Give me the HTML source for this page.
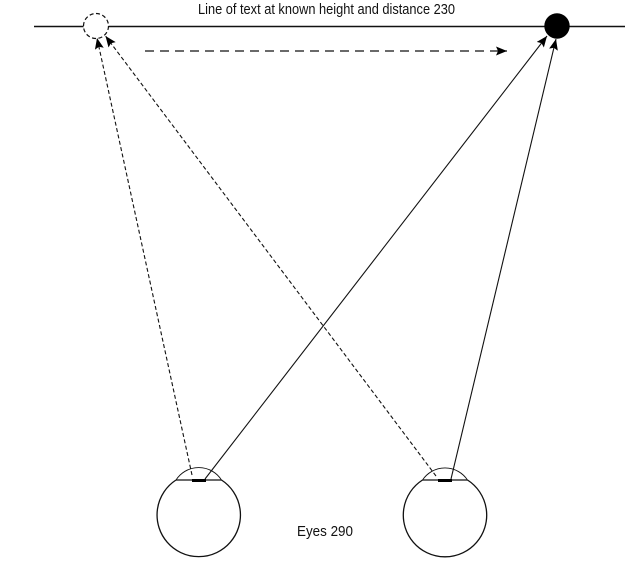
<!DOCTYPE html>
<html>
<head>
<meta charset="utf-8">
<style>
html,body{margin:0;padding:0;background:#fff;width:640px;height:574px;overflow:hidden}
svg{display:block}
text{font-family:"Liberation Sans",sans-serif;font-size:15px;fill:#111}
</style>
</head>
<body>
<svg width="640" height="574" viewBox="0 0 640 574" xmlns="http://www.w3.org/2000/svg">
<defs>
<marker id="a" markerUnits="userSpaceOnUse" markerWidth="12" markerHeight="10" refX="11" refY="4.5" orient="auto">
<path d="M0 0L11 4.5L0 9L2 4.5Z" fill="#000"/>
</marker>
</defs>
<text x="198" y="14" textLength="257" lengthAdjust="spacingAndGlyphs">Line of text at known height and distance 230</text>
<line x1="34" y1="26.5" x2="625" y2="26.5" stroke="#111" stroke-width="1.6"/>
<circle cx="96" cy="26" r="12.5" fill="#fff" stroke="#111" stroke-width="1.2" stroke-dasharray="4 2.5"/>
<circle cx="557" cy="26" r="12.7" fill="#000"/>
<line x1="145" y1="51" x2="507" y2="51" stroke="#111" stroke-width="1.2" stroke-dasharray="9 6" marker-end="url(#a)"/>
<g fill="none" stroke="#111" stroke-width="1.1">
<line x1="192" y1="475" x2="97" y2="38" stroke-dasharray="4 2.5" marker-end="url(#a)"/>
<line x1="436" y1="476" x2="105.5" y2="36" stroke-dasharray="4 2.5" marker-end="url(#a)"/>
<line x1="205" y1="479" x2="547" y2="36" marker-end="url(#a)"/>
<line x1="451" y1="479" x2="556" y2="39" marker-end="url(#a)"/>
<path d="M176 480A41.7 41.7 0 1 0 221.5 480" stroke-width="1.3"/>
<path d="M422.5 480A41.7 41.7 0 1 0 467.5 480" stroke-width="1.3"/>
<line x1="176" y1="480" x2="221.5" y2="480" stroke-width="1.3"/>
<line x1="422.5" y1="480" x2="467.5" y2="480" stroke-width="1.3"/>
<path d="M176 480A27 27 0 0 1 221.5 480" stroke-width="0.9"/>
<path d="M422.5 480A27 27 0 0 1 467.5 480" stroke-width="0.9"/>
</g>
<rect x="192" y="479" width="14" height="3" fill="#000"/>
<rect x="438" y="479" width="14" height="3" fill="#000"/>
<text x="297" y="536" textLength="56" lengthAdjust="spacingAndGlyphs">Eyes 290</text>
</svg>
</body>
</html>
